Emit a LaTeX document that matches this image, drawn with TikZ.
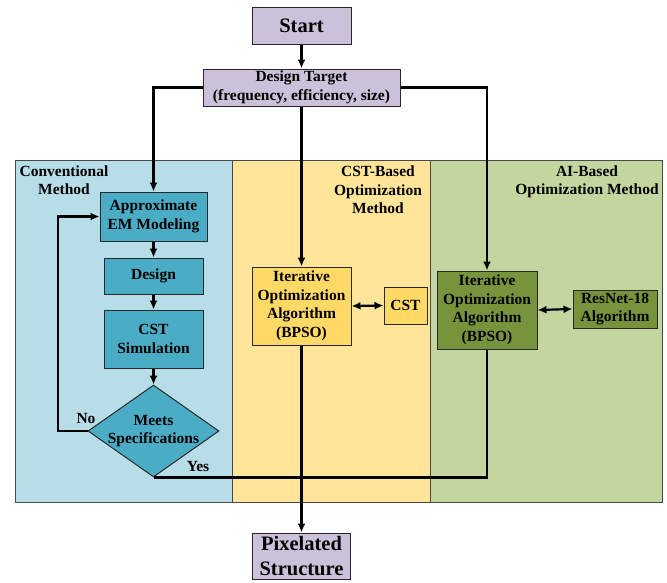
\documentclass[tikz,border=0pt]{standalone}
\usepackage{fontspec}
\setmainfont{Liberation Serif}
\usetikzlibrary{shapes.geometric,arrows.meta}
\definecolor{lav}{RGB}{204,193,218}
\definecolor{bluepanel}{RGB}{183,221,232}
\definecolor{bluebox}{RGB}{75,172,198}
\definecolor{yelpanel}{RGB}{255,229,153}
\definecolor{yelbox}{RGB}{255,217,102}
\definecolor{grnpanel}{RGB}{196,214,160}
\definecolor{grnbox}{RGB}{119,147,60}
\definecolor{edge}{RGB}{40,40,40}
\tikzset{
  txt/.style={font=\fontsize{15.5}{18.5}\selectfont\bfseries, align=center},
  bigtxt/.style={font=\fontsize{20.5}{25}\selectfont\bfseries, align=center},
  boxx/.style={draw=edge, line width=1pt, inner sep=1pt, txt},
  panel/.style={draw=edge!85, line width=1.2pt, anchor=north west, inner sep=0pt},
  conn/.style={line width=2.2pt, draw=black},
  arr/.style={conn, -{Latex[length=9pt,width=8pt]}},
  darr/.style={conn, {Latex[length=9pt,width=8pt]}-{Latex[length=9pt,width=8pt]}},
}
\begin{document}
\begin{tikzpicture}[x=1pt,y=-1pt]
\useasboundingbox (0,0) rectangle (667,582);
% panels
\node[panel, fill=bluepanel, minimum width=217, minimum height=342] (pconv) at (15,160) {};
\node[panel, fill=yelpanel, minimum width=198, minimum height=342] (pcst) at (232,160) {};
\node[panel, fill=grnpanel, minimum width=232, minimum height=342] (pai) at (430,160) {};
% panel labels
\node[txt] (lconv) at (64,180) {Conventional\\Method};
\node[txt] (lcst) at (378,190) {CST-Based\\Optimization\\Method};
\node[txt] (lai) at (587,182) {AI-Based\\Optimization Method};
% top nodes
\node[boxx, bigtxt, fill=lav, minimum width=99, minimum height=37] (start) at (301.5,25.5) {Start};
\node[boxx, fill=lav, minimum width=197, minimum height=37] (dt) at (301.5,87.5) {Design Target\\(frequency, efficiency, size)};
% conventional
\node[boxx, fill=bluebox, minimum width=107, minimum height=49] (approx) at (153.5,216.5) {Approximate\\EM Modeling};
\node[boxx, fill=bluebox, minimum width=99, minimum height=36] (design) at (153.5,276) {Design};
\node[boxx, fill=bluebox, minimum width=99, minimum height=58] (cstsim) at (153.5,339) {CST\\Simulation};
\node[diamond, draw=edge, line width=1pt, fill=bluebox, minimum width=131, minimum height=92, inner sep=0pt] (meets) at (153.5,431) {};
\node[txt] (meetst) at (153.5,431) {Meets\\Specifications};
\coordinate (nol) at (58,431);
\node[txt] (no) at (86,418) {No};
\node[txt] (yes) at (198,466) {Yes};
% CST
\node[boxx, fill=yelbox, minimum width=99, minimum height=78] (cstit) at (301.5,306) {Iterative\\Optimization\\Algorithm\\(BPSO)};
\node[boxx, fill=yelbox, minimum width=43, minimum height=37] (cst) at (405.5,305.5) {CST};
% AI
\node[boxx, fill=grnbox, minimum width=100, minimum height=78] (aiit) at (487,310) {Iterative\\Optimization\\Algorithm\\(BPSO)};
\node[boxx, fill=grnbox, minimum width=84, minimum height=38] (resnet) at (615,309) {ResNet-18\\Algorithm};
% bottom
\node[boxx, bigtxt, fill=lav, minimum width=98, minimum height=46] (pix) at (301.5,556) {Pixelated\\Structure};
% connectors
\draw[arr] (start) -- (dt);
\draw[arr] (dt.west) -| (approx.north);
\draw[arr] (dt.east) -| (aiit.north);
\draw[arr] (dt) -- (cstit);
\draw[arr] (approx) -- (design);
\draw[arr] (design) -- (cstsim);
\draw[arr] (cstsim) -- (meets.north);
\draw[arr] (meets.west) -- (nol) |- (approx.west);
\draw[conn] (meets.south) -| (aiit.south);
\draw[arr] (cstit) -- (pix);
\draw[darr] (cstit.east) -- (cst.west);
\draw[darr] (aiit.east) -- (resnet.west);
\end{tikzpicture}
\end{document}
